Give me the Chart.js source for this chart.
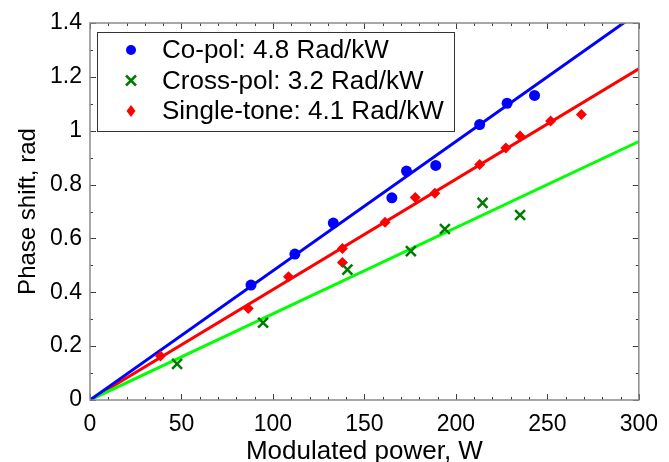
<!DOCTYPE html>
<html>
<head>
<meta charset="utf-8">
<script src="https://cdn.jsdelivr.net/npm/chart.js@4"></script>
<style>
  body { margin: 0; background: #fff; }
  canvas { display: block; }
</style>
</head>
<body>
<canvas id="phaseChart" width="669" height="462"></canvas>
<script>
'use strict';

// measured points
const coPolX = [88, 112, 133, 165, 173, 189, 213, 228, 243];
const coPolY = [0.427, 0.542, 0.657, 0.751, 0.850, 0.871, 1.023, 1.102, 1.131];

const crossPolX = [47.6, 94.6, 140.7, 175.4, 194.0, 214.6, 235.1];
const crossPolY = [0.134, 0.287, 0.484, 0.553, 0.635, 0.732, 0.687];

const singleToneX = [38.5, 86.5, 108.5, 138, 138, 161.3, 177.8, 188.5, 213, 227.3, 235.1, 251.8, 268.6];
const singleToneY = [0.163, 0.340, 0.458, 0.563, 0.511, 0.660, 0.752, 0.768, 0.875, 0.936, 0.980, 1.036, 1.060];

// linear fits (end points)
const fitX = [0, 300];
const coPolFit = [0, 1.44];
const crossPolFit = [0, 0.96];
const singleToneFit = [0, 1.23];

const legendLabels = ['Co-pol: 4.8 Rad/kW', 'Cross-pol: 3.2 Rad/kW', 'Single-tone: 4.1 Rad/kW'];

const xTicks = [0, 50, 100, 150, 200, 250, 300];
const xTickLabels = ['0', '50', '100', '150', '200', '250', '300'];
const yTicks = [0, 0.2, 0.4, 0.6, 0.8, 1, 1.2, 1.4];
const yTickLabels = ['0', '0.2', '0.4', '0.6', '0.8', '1', '1.2', '1.4'];

const FONT = '"Liberation Sans", Arial, sans-serif';
const toPoints = (xs, ys) => xs.map((x, i) => ({ x: x, y: ys[i] }));

// box + inward ticks on all four sides
const frameTicks = {
    id: 'frameTicks',
    afterDatasetsDraw(chart) {
        const { ctx, chartArea: a, scales } = chart;
        ctx.save();
        ctx.strokeStyle = '#3c3c3c';
        ctx.lineWidth = 1;
        ctx.beginPath();
        for (let v = 0; v <= 300; v += 10) {
            const px = Math.round(scales.x.getPixelForValue(v)) + 0.5;
            const len = v % 50 === 0 ? 6 : 3;
            ctx.moveTo(px, a.bottom); ctx.lineTo(px, a.bottom - len);
            ctx.moveTo(px, a.top); ctx.lineTo(px, a.top + len);
        }
        for (let k = 0; k <= 14; k++) {
            const py = Math.round(scales.y.getPixelForValue(k / 10)) + 0.5;
            const len = k % 2 === 0 ? 6 : 3;
            ctx.moveTo(a.left, py); ctx.lineTo(a.left + len, py);
            ctx.moveTo(a.right, py); ctx.lineTo(a.right - len, py);
        }
        ctx.stroke();
        ctx.strokeStyle = '#8a8a8a';
        ctx.lineWidth = 1.5;
        ctx.strokeRect(a.left, a.top, a.right - a.left, a.bottom - a.top);
        ctx.restore();
    }
};

// legend box inside the plot
const insideLegend = {
    id: 'insideLegend',
    afterDraw(chart) {
        const ctx = chart.ctx;
        const a = chart.chartArea;
        const x0 = a.left + 7, y0 = a.top + 9, w = 357, h = 99;
        ctx.save();
        ctx.fillStyle = '#fff';
        ctx.fillRect(x0, y0, w, h);
        ctx.strokeStyle = '#333';
        ctx.lineWidth = 1;
        ctx.strokeRect(x0 + 0.5, y0 + 0.5, w, h);
        ctx.font = '26px ' + FONT;
        ctx.textBaseline = 'middle';
        legendLabels.forEach((label, i) => {
            const cy = y0 + 18 + i * 30.5;
            const mx = x0 + 34;
            const ds = chart.data.datasets[i];
            ctx.fillStyle = ds.backgroundColor;
            ctx.strokeStyle = ds.borderColor;
            ctx.lineWidth = 2.5;
            ctx.beginPath();
            if (ds.pointStyle === 'circle') {
                ctx.arc(mx, cy, 5, 0, Math.PI * 2);
                ctx.fill();
            } else if (ds.pointStyle === 'crossRot') {
                ctx.moveTo(mx - 5, cy - 5); ctx.lineTo(mx + 5, cy + 5);
                ctx.moveTo(mx + 5, cy - 5); ctx.lineTo(mx - 5, cy + 5);
                ctx.stroke();
            } else {
                ctx.moveTo(mx, cy - 6); ctx.lineTo(mx + 4.5, cy);
                ctx.lineTo(mx, cy + 6); ctx.lineTo(mx - 4.5, cy);
                ctx.closePath();
                ctx.fill();
            }
            ctx.fillStyle = '#000';
            ctx.fillText(label, x0 + 65, cy + 1);
        });
        ctx.restore();
    }
};

const ctx = document.getElementById('phaseChart').getContext('2d');

new Chart(ctx, {
    type: 'scatter',
    data: {
        datasets: [{
            label: legendLabels[0],
            data: toPoints(coPolX, coPolY),
            pointStyle: 'circle',
            pointRadius: 5.5,
            backgroundColor: '#0000ff',
            borderColor: '#0000ff',
            borderWidth: 0
        }, {
            label: legendLabels[1],
            data: toPoints(crossPolX, crossPolY),
            pointStyle: 'crossRot',
            pointRadius: 7,
            backgroundColor: '#007a00',
            borderColor: '#007a00',
            borderWidth: 2.5
        }, {
            label: legendLabels[2],
            data: toPoints(singleToneX, singleToneY),
            pointStyle: 'rectRot',
            pointRadius: 5.5,
            backgroundColor: '#ff0000',
            borderColor: '#ff0000',
            borderWidth: 0
        }, {
            data: toPoints(fitX, coPolFit),
            showLine: true,
            pointRadius: 0,
            borderColor: '#0000ff',
            borderWidth: 3
        }, {
            data: toPoints(fitX, crossPolFit),
            showLine: true,
            pointRadius: 0,
            borderColor: '#00ff00',
            borderWidth: 3
        }, {
            data: toPoints(fitX, singleToneFit),
            showLine: true,
            pointRadius: 0,
            borderColor: '#ff0000',
            borderWidth: 3
        }]
    },
    options: {
        responsive: false,
        animation: false,
        layout: { padding: { top: 23, right: 26, left: 0, bottom: 0 } },
        plugins: {
            legend: { display: false },
            tooltip: { enabled: false }
        },
        scales: {
            x: {
                type: 'linear',
                min: 0,
                max: 300,
                grid: { display: false, drawTicks: false },
                border: { display: false },
                afterBuildTicks: scale => { scale.ticks = xTicks.map(v => ({ value: v })); },
                afterFit: scale => { scale.height = 62; },
                ticks: {
                    padding: 11,
                    color: '#000',
                    font: { family: FONT, size: 23 },
                    callback: (v, i) => xTickLabels[i]
                },
                title: {
                    display: true,
                    text: 'Modulated power, W',
                    color: '#000',
                    padding: { top: 0, bottom: 0 },
                    font: { family: FONT, size: 26, lineHeight: 0.75 }
                }
            },
            y: {
                type: 'linear',
                min: 0,
                max: 1.4,
                grid: { display: false, drawTicks: false },
                border: { display: false },
                afterBuildTicks: scale => { scale.ticks = yTicks.map(v => ({ value: v })); },
                afterFit: scale => { scale.width = 90; },
                ticks: {
                    padding: 8,
                    color: '#000',
                    font: { family: FONT, size: 23 },
                    callback: (v, i) => yTickLabels[i]
                },
                title: {
                    display: true,
                    text: 'Phase shift, rad',
                    color: '#000',
                    padding: { top: 14, bottom: 0 },
                    font: { family: FONT, size: 24 }
                }
            }
        }
    },
    plugins: [frameTicks, insideLegend]
});
</script>
</body>
</html>
